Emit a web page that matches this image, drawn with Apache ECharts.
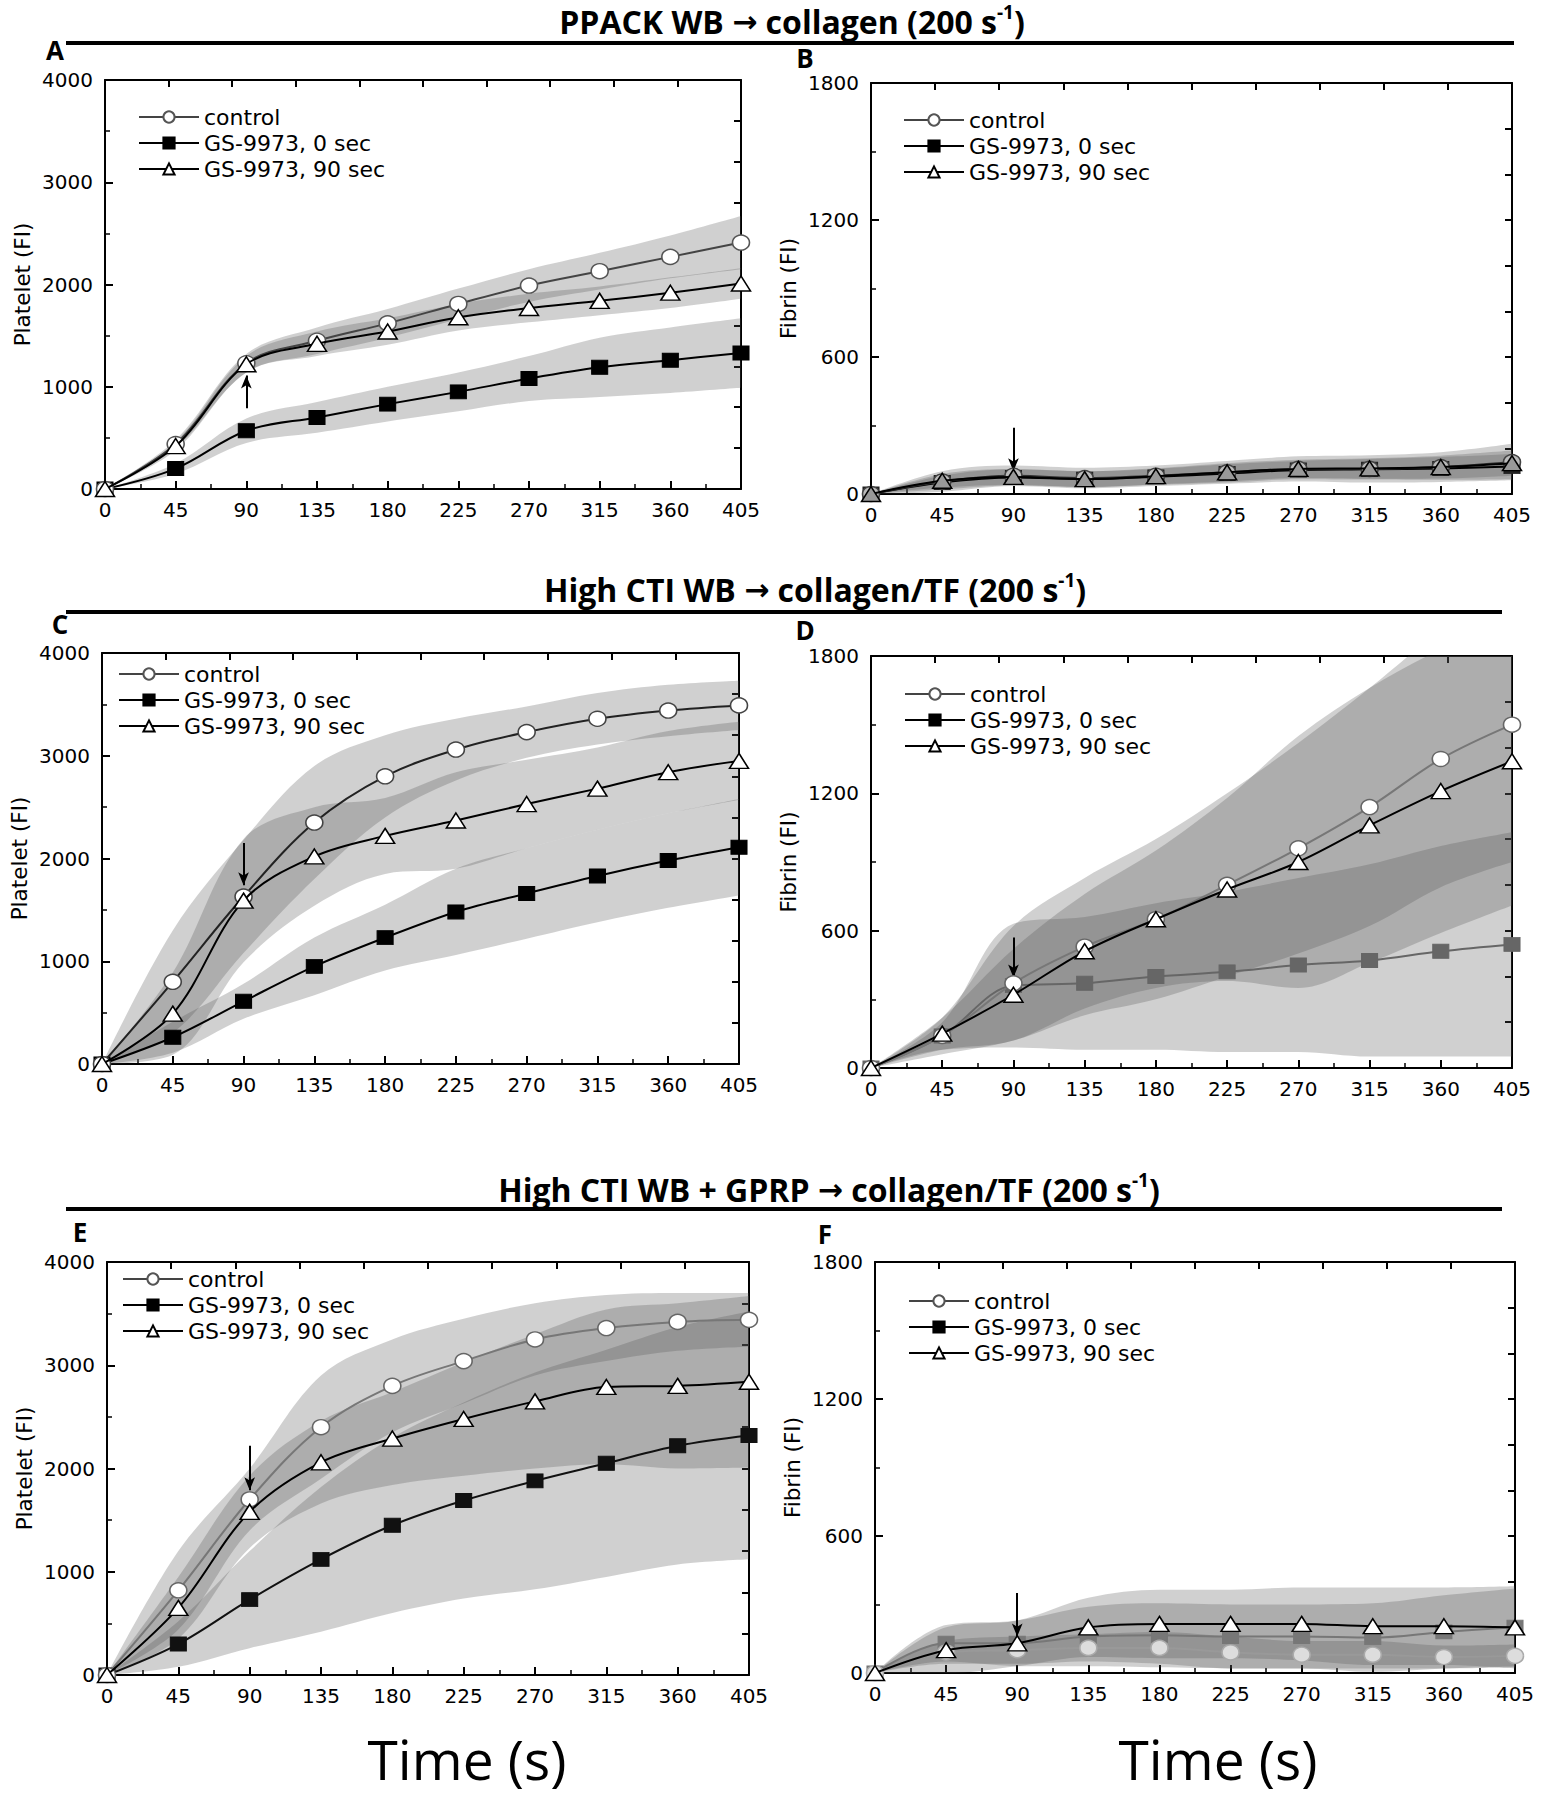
<!DOCTYPE html>
<html>
<head>
<meta charset="utf-8">
<script src="https://cdn.jsdelivr.net/npm/echarts@6/dist/echarts.min.js"></script>
<style>
  html, body { margin: 0; padding: 0; background: #fff; }
  #chart { width: 1545px; height: 1800px; }
</style>
</head>
<body>
<div id="chart"></div>
<script>
// ---------- DATA ----------
const xTicks = [0, 45, 90, 135, 180, 225, 270, 315, 360, 405];
const seriesNames = ['control', 'GS-9973, 0 sec', 'GS-9973, 90 sec'];

// Panel A: PPACK WB, platelet
const A_control    = [0, 440, 1230, 1450, 1620, 1810, 1990, 2130, 2270, 2410];
const A_control_sd = [0, 40, 90, 130, 140, 150, 160, 180, 210, 260];
const A_gs0        = [0, 200, 570, 700, 830, 950, 1080, 1190, 1260, 1330];
const A_gs0_sd     = [0, 50, 120, 150, 170, 190, 220, 290, 320, 340];
const A_gs90       = [0, 420, 1220, 1420, 1540, 1680, 1770, 1840, 1920, 2010];
const A_gs90_sd    = [0, 40, 80, 120, 130, 130, 140, 140, 150, 150];
const A_arrow      = [90, 790, 1110];

// Panel B: PPACK WB, fibrin
const B_control    = [0, 55, 80, 70, 80, 95, 110, 110, 118, 140];
const B_control_sd = [0, 45, 45, 45, 45, 50, 55, 60, 65, 80];
const B_gs0        = [0, 50, 72, 65, 75, 90, 105, 108, 112, 120];
const B_gs0_sd     = [0, 30, 35, 35, 35, 40, 40, 45, 50, 55];
const B_gs90       = [0, 58, 75, 65, 78, 95, 110, 112, 118, 135];
const B_gs90_sd    = [0, 30, 35, 35, 35, 40, 40, 45, 50, 55];
const B_arrow      = [90, 290, 100];

// Panel C: High CTI WB, platelet
const C_control    = [0, 800, 1630, 2350, 2800, 3060, 3230, 3360, 3440, 3490];
const C_control_sd = [0, 500, 550, 550, 400, 300, 250, 250, 250, 240];
const C_gs0        = [0, 260, 610, 950, 1230, 1480, 1660, 1830, 1980, 2110];
const C_gs0_sd     = [0, 150, 170, 280, 320, 420, 440, 450, 460, 470];
const C_gs90       = [0, 490, 1590, 2020, 2220, 2370, 2530, 2680, 2840, 2950];
const C_gs90_sd    = [0, 400, 600, 480, 370, 470, 430, 400, 400, 380];
const C_arrow      = [90, 2150, 1740];

// Panel D: High CTI WB, fibrin
const D_control    = [0, 140, 370, 530, 650, 800, 960, 1140, 1350, 1500];
const D_control_sd = [0, 80, 250, 300, 350, 400, 460, 520, 560, 600];
const D_gs0        = [0, 140, 360, 370, 400, 420, 450, 470, 510, 540];
const D_gs0_sd     = [0, 60, 270, 290, 320, 350, 380, 420, 460, 490];
const D_gs90       = [0, 150, 320, 510, 650, 780, 900, 1060, 1210, 1340];
const D_gs90_sd    = [0, 70, 200, 250, 300, 400, 550, 600, 620, 630];
const D_arrow      = [90, 570, 395];

// Panel E: High CTI WB + GPRP, platelet
const E_control    = [0, 820, 1700, 2400, 2800, 3040, 3250, 3360, 3420, 3440];
const E_control_sd = [0, 380, 300, 500, 450, 410, 350, 320, 280, 260];
const E_gs0        = [0, 300, 730, 1120, 1450, 1690, 1880, 2050, 2220, 2320];
const E_gs0_sd     = [0, 220, 470, 700, 850, 950, 1050, 1100, 1150, 1200];
const E_gs90       = [0, 650, 1580, 2060, 2290, 2480, 2650, 2790, 2800, 2840];
const E_gs90_sd    = [0, 300, 350, 400, 450, 550, 650, 750, 800, 830];
const E_arrow      = [90, 2220, 1790];

// Panel F: High CTI WB + GPRP, fibrin
const F_control    = [0, 90, 100, 110, 110, 90, 80, 80, 70, 75];
const F_control_sd = [0, 50, 60, 60, 70, 70, 60, 60, 50, 50];
const F_gs0        = [0, 130, 130, 160, 165, 160, 160, 155, 180, 200];
const F_gs0_sd     = [0, 80, 100, 130, 140, 140, 140, 150, 160, 170];
const F_gs90       = [0, 100, 130, 200, 215, 215, 215, 205, 205, 200];
const F_gs90_sd    = [0, 100, 100, 130, 150, 150, 160, 170, 170, 180];
const F_arrow      = [90, 350, 160];

// Axis tick setup
const platTicks = { max: 4000, interval: 1000, rightInterval: 400 };
const fibTicks  = { max: 1800, interval: 600, rightInterval: 200 };

// ---------- LAYOUT / STYLE ----------
const panels = [
  { key: 'A', grid: { left: 105, top: 80, width: 636, height: 409 }, y: platTicks, yName: 'Platelet (FI)',
    d: [A_control, A_gs0, A_gs90], sd: [A_control_sd, A_gs0_sd, A_gs90_sd], arrow: A_arrow,
    legend: { left: 133, top: 99 },
    sty: { cLine: '#444', cBorder: '#555', cFill: '#fff', sLine: '#000', sFill: '#000', tLine: '#000', tFill: '#fff' } },
  { key: 'B', grid: { left: 871, top: 83, width: 641, height: 411 }, y: fibTicks, yName: 'Fibrin (FI)',
    d: [B_control, B_gs0, B_gs90], sd: [B_control_sd, B_gs0_sd, B_gs90_sd], arrow: B_arrow,
    legend: { left: 898, top: 102 },
    sty: { cLine: '#333', cBorder: '#444', cFill: '#bbb', sLine: '#000', sFill: '#222', tLine: '#000', tFill: '#999' } },
  { key: 'C', grid: { left: 102, top: 653, width: 637, height: 411 }, y: platTicks, yName: 'Platelet (FI)',
    d: [C_control, C_gs0, C_gs90], sd: [C_control_sd, C_gs0_sd, C_gs90_sd], arrow: C_arrow,
    legend: { left: 113, top: 656 },
    sty: { cLine: '#222', cBorder: '#444', cFill: '#fff', sLine: '#000', sFill: '#000', tLine: '#000', tFill: '#fff' } },
  { key: 'D', grid: { left: 871, top: 656, width: 641, height: 412 }, y: fibTicks, yName: 'Fibrin (FI)',
    d: [D_control, D_gs0, D_gs90], sd: [D_control_sd, D_gs0_sd, D_gs90_sd], arrow: D_arrow,
    legend: { left: 899, top: 676 },
    sty: { cLine: '#777', cBorder: '#666', cFill: '#fff', sLine: '#666', sFill: '#666', tLine: '#000', tFill: '#fff' } },
  { key: 'E', grid: { left: 107, top: 1262, width: 642, height: 413 }, y: platTicks, yName: 'Platelet (FI)',
    d: [E_control, E_gs0, E_gs90], sd: [E_control_sd, E_gs0_sd, E_gs90_sd], arrow: E_arrow,
    legend: { left: 117, top: 1261 },
    sty: { cLine: '#777', cBorder: '#666', cFill: '#fff', sLine: '#111', sFill: '#111', tLine: '#000', tFill: '#fff' } },
  { key: 'F', grid: { left: 875, top: 1262, width: 640, height: 411 }, y: fibTicks, yName: 'Fibrin (FI)',
    d: [F_control, F_gs0, F_gs90], sd: [F_control_sd, F_gs0_sd, F_gs90_sd], arrow: F_arrow,
    legend: { left: 903, top: 1283 },
    sty: { cLine: '#999', cBorder: '#aaa', cFill: '#ddd', sLine: '#777', sFill: '#777', tLine: '#000', tFill: '#fff' } }
];

const BAND = 'rgba(80,80,80,0.27)';
const SMOOTH = 0.35;
const TICKFONT = 'DejaVu Sans';
const plain = v => String(v);

const grids = [], xAxes = [], yAxes = [], series = [], legends = [];

panels.forEach((p, gi) => {
  grids.push(Object.assign({ containLabel: false }, p.grid));
  const axisLine = { show: true, onZero: false, lineStyle: { color: '#000', width: 2 } };
  // bottom x (value)
  xAxes.push({
    type: 'value', gridIndex: gi, position: 'bottom', min: 0, max: 405, interval: 45,
    axisLine, axisTick: { show: true, inside: true, length: 8, lineStyle: { color: '#000', width: 2 } },
    minorTick: { show: true, splitNumber: 2, length: 5, lineStyle: { color: '#000', width: 1.5 } },
    axisLabel: { color: '#000', fontFamily: TICKFONT, fontSize: 20, margin: 11, formatter: plain },
    splitLine: { show: false }, minorSplitLine: { show: false }
  });
  // top x (ticks only)
  xAxes.push({
    type: 'value', gridIndex: gi, position: 'top', min: 0, max: 400, interval: 40,
    axisLine, axisTick: { show: true, inside: true, length: 7, lineStyle: { color: '#000', width: 2 } },
    axisLabel: { show: false }, splitLine: { show: false }
  });
  // hidden category axis used by the stacked SD bands (same even 45 s spacing)
  xAxes.push({
    type: 'category', gridIndex: gi, data: xTicks, boundaryGap: false, show: false
  });
  // left y
  yAxes.push({
    type: 'value', gridIndex: gi, position: 'left', min: 0, max: p.y.max, interval: p.y.interval,
    name: p.yName, nameLocation: 'middle', nameGap: 72, nameRotate: 90,
    nameTextStyle: { color: '#000', fontFamily: TICKFONT, fontSize: 21.5 },
    axisLine, axisTick: { show: true, inside: true, length: 8, lineStyle: { color: '#000', width: 2 } },
    minorTick: { show: true, splitNumber: 2, length: 5, lineStyle: { color: '#000', width: 1.5 } },
    axisLabel: { color: '#000', fontFamily: TICKFONT, fontSize: 20, margin: 12, formatter: plain },
    splitLine: { show: false }, minorSplitLine: { show: false }
  });
  // right y (ticks only)
  yAxes.push({
    type: 'value', gridIndex: gi, position: 'right', min: 0, max: p.y.max, interval: p.y.rightInterval,
    axisLine, axisTick: { show: true, inside: true, length: 7, lineStyle: { color: '#000', width: 2 } },
    axisLabel: { show: false }, splitLine: { show: false }
  });

  const xi = 3 * gi, xc = 3 * gi + 2, yi = 2 * gi;
  // SD bands (stacked on the hidden category axis)
  p.d.forEach((mean, si) => {
    const sd = p.sd[si];
    const id = p.key + '_band' + si;
    series.push({
      type: 'line', name: id + '_lo', xAxisIndex: xc, yAxisIndex: yi, stack: id, stackStrategy: 'all',
      data: mean.map((v, k) => v - sd[k]),
      symbol: 'none', smooth: SMOOTH, lineStyle: { width: 0, opacity: 0 }, silent: true, z: 1
    });
    series.push({
      type: 'line', name: id + '_hi', xAxisIndex: xc, yAxisIndex: yi, stack: id, stackStrategy: 'all',
      data: sd.map(s => 2 * s),
      symbol: 'none', smooth: SMOOTH, lineStyle: { width: 0, opacity: 0 },
      areaStyle: { color: BAND, opacity: 1 }, silent: true, z: 1
    });
  });

  const s = p.sty;
  // GS-9973, 0 sec (filled square)
  series.push({
    type: 'line', name: seriesNames[1], xAxisIndex: xi, yAxisIndex: yi,
    data: p.d[1].map((v, k) => [xTicks[k], v]), smooth: SMOOTH,
    symbol: 'rect', symbolSize: [16, 14], showAllSymbol: true,
    lineStyle: { color: s.sLine, width: 2 },
    itemStyle: { color: s.sFill, borderColor: s.sFill, borderWidth: 1 }, z: 4
  });
  // control (open circle)
  series.push({
    type: 'line', name: seriesNames[0], xAxisIndex: xi, yAxisIndex: yi,
    data: p.d[0].map((v, k) => [xTicks[k], v]), smooth: SMOOTH,
    symbol: 'circle', symbolSize: [17, 15], showAllSymbol: true,
    lineStyle: { color: s.cLine, width: 2 },
    itemStyle: { color: s.cFill, borderColor: s.cBorder, borderWidth: 1.5 }, z: 5
  });
  // GS-9973, 90 sec (open triangle) + arrow at 90 s
  series.push({
    type: 'line', name: seriesNames[2], xAxisIndex: xi, yAxisIndex: yi,
    data: p.d[2].map((v, k) => [xTicks[k], v]), smooth: SMOOTH,
    symbol: 'triangle', symbolSize: [19, 15], showAllSymbol: true,
    lineStyle: { color: s.tLine, width: 2 },
    itemStyle: { color: s.tFill, borderColor: '#000', borderWidth: 1.5 }, z: 6,
    markLine: {
      silent: true, symbol: ['none', 'arrow'], symbolSize: [8, 13],
      lineStyle: { color: '#000', width: 2, type: 'solid' }, label: { show: false },
      data: [[{ coord: [p.arrow[0], p.arrow[1]] }, { coord: [p.arrow[0], p.arrow[2]] }]]
    }
  });

  legends.push({
    left: p.legend.left, top: p.legend.top, orient: 'vertical',
    itemWidth: 60, itemHeight: 14, itemGap: 0, selectedMode: false,
    data: seriesNames,
    textStyle: { color: '#000', fontFamily: TICKFONT, fontSize: 22, lineHeight: 26 }
  });
});

// ---------- decorations ----------
const titleRich = {
  t: { fontFamily: 'Open Sans', fontWeight: 'bold', fontSize: 32, lineHeight: 38, color: '#000' },
  arr: { fontFamily: 'DejaVu Sans', fontWeight: 'bold', fontSize: 30, lineHeight: 38, color: '#000' },
  sup: { fontFamily: 'Open Sans', fontWeight: 'bold', fontSize: 19, lineHeight: 21, verticalAlign: 'top', color: '#000' }
};
function titleText(x, y, pre, post) {
  return { type: 'text', x: x, y: y,
    style: { text: '{t|' + pre + ' }{arr|\u2192}{t| ' + post + ' (200 s}{sup|-1}{t|)}', rich: titleRich, align: 'center', verticalAlign: 'middle' } };
}
function rule(x1, x2, y) {
  return { type: 'line', shape: { x1: x1, y1: y, x2: x2, y2: y }, style: { stroke: '#000', lineWidth: 4 } };
}
function letter(ch, x, y) {
  return { type: 'text', x: x, y: y,
    style: { text: ch, fontFamily: 'Open Sans', fontWeight: 'bold', fontSize: 26, lineHeight: 22, fill: '#000', align: 'center', verticalAlign: 'middle' } };
}
function bigLabel(x, y) {
  return { type: 'text', x: x, y: y,
    style: { text: 'Time (s)', fontFamily: 'Open Sans', fontSize: 55, fill: '#000', align: 'center', verticalAlign: 'middle' } };
}

const graphics = [
  titleText(792, 21, 'PPACK WB', 'collagen'),
  rule(66, 1514, 43),
  titleText(815, 589, 'High CTI WB', 'collagen/TF'),
  rule(66, 1502, 612),
  titleText(829, 1189, 'High CTI WB + GPRP', 'collagen/TF'),
  rule(66, 1502, 1209),
  letter('A', 55, 50), letter('B', 805, 58),
  letter('C', 60, 624), letter('D', 805, 630),
  letter('E', 80, 1232), letter('F', 825, 1234),
  bigLabel(467, 1758), bigLabel(1218, 1758)
];

const chart = echarts.init(document.getElementById('chart'), null, { renderer: 'svg' });
chart.setOption({
  animation: false,
  backgroundColor: '#fff',
  grid: grids,
  xAxis: xAxes,
  yAxis: yAxes,
  legend: legends,
  series: series,
  graphic: graphics
});
</script>
</body>
</html>
